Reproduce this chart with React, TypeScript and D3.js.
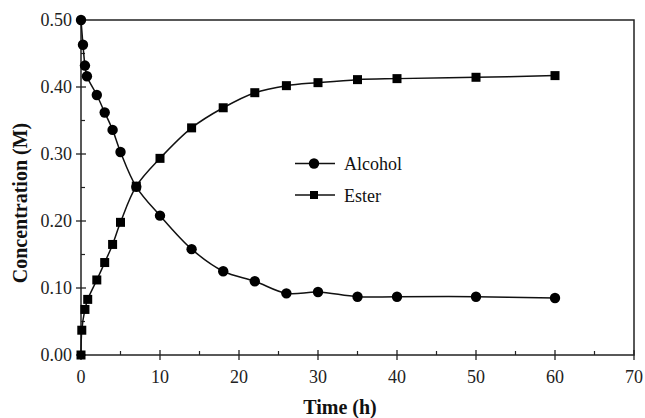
import React from "react";
import * as d3 from "d3";

// Reaction time (h) and measured concentrations (M)
const alcoholTime = [0, 0.25, 0.5, 0.75, 2, 3, 4, 5, 7, 10, 14, 18, 22, 26, 30, 35, 40, 50, 60];
const alcoholConc = [0.5, 0.463, 0.432, 0.416, 0.388, 0.362, 0.336, 0.303, 0.251, 0.208, 0.158, 0.125, 0.110, 0.092, 0.094, 0.087, 0.087, 0.087, 0.085];

const esterTime = [0, 0.1, 0.5, 0.85, 2, 3, 4, 5, 7, 10, 14, 18, 22, 26, 30, 35, 40, 50, 60];
const esterConc = [0, 0.037, 0.068, 0.083, 0.112, 0.138, 0.165, 0.198, 0.252, 0.2935, 0.339, 0.369, 0.3915, 0.402, 0.4065, 0.411, 0.4125, 0.4145, 0.417];

const xTicks = [0, 10, 20, 30, 40, 50, 60, 70];
const yTicks = [0, 0.1, 0.2, 0.3, 0.4, 0.5];
const xMinor = [5, 15, 25, 35, 45, 55, 65];
const yMinor = [0.05, 0.15, 0.25, 0.35, 0.45];

const W = 645;
const H = 418;
const left = 81;
const right = 634;
const top = 20;
const bottom = 355;
const serif: React.CSSProperties = { fontFamily: "'Liberation Serif', 'DejaVu Serif', serif" };

export default function App() {
  const x = d3.scaleLinear().domain([0, 70]).range([left, right]);
  const y = d3.scaleLinear().domain([0, 0.5]).range([bottom, top]);

  const line = d3
    .line<[number, number]>()
    .x((d) => x(d[0]))
    .y((d) => y(d[1]))
    .curve(d3.curveCatmullRom.alpha(0.5));

  const alcohol: [number, number][] = alcoholTime.map((t, i) => [t, alcoholConc[i]]);
  const ester: [number, number][] = esterTime.map((t, i) => [t, esterConc[i]]);

  const sq = 9;

  return (
    <svg
      width={W}
      height={H}
      style={{ position: "absolute", left: 0, top: 0, background: "#fff" }}
    >
      <rect x={0} y={0} width={W} height={H} fill="#fff" />

      {/* frame */}
      <rect
        x={left}
        y={top}
        width={right - left}
        height={bottom - top}
        fill="none"
        stroke="#222"
        strokeWidth={1.5}
      />

      {/* x ticks */}
      {xTicks.map((t) => (
        <g key={"xt" + t}>
          <line x1={x(t)} x2={x(t)} y1={bottom - 5} y2={bottom + 5} stroke="#222" strokeWidth={1.3} />
          <text x={x(t)} y={383} textAnchor="middle" fontSize={18} fill="#222" style={serif}>
            {t}
          </text>
        </g>
      ))}
      {xMinor.map((t) => (
        <line key={"xm" + t} x1={x(t)} x2={x(t)} y1={bottom - 4} y2={bottom} stroke="#222" strokeWidth={1.2} />
      ))}

      {/* y ticks */}
      {yTicks.map((t) => (
        <g key={"yt" + t}>
          <line x1={left - 5} x2={left + 5} y1={y(t)} y2={y(t)} stroke="#222" strokeWidth={1.3} />
          <text x={72} y={y(t) + 6} textAnchor="end" fontSize={18} fill="#222" style={serif}>
            {t.toFixed(2)}
          </text>
        </g>
      ))}
      {yMinor.map((t) => (
        <line key={"ym" + t} x1={left} x2={left + 4} y1={y(t)} y2={y(t)} stroke="#222" strokeWidth={1.2} />
      ))}

      {/* axis titles */}
      <text x={340} y={414} textAnchor="middle" fontSize={20} fontWeight="bold" fill="#111" style={serif}>
        Time (h)
      </text>
      <text
        transform={`translate(27,203) rotate(-90)`}
        textAnchor="middle"
        fontSize={20}
        fontWeight="bold"
        fill="#111"
        style={serif}
      >
        Concentration (M)
      </text>

      {/* series lines */}
      <path d={line(alcohol) ?? ""} fill="none" stroke="#111" strokeWidth={1.5} />
      <path d={line(ester) ?? ""} fill="none" stroke="#111" strokeWidth={1.5} />

      {/* markers */}
      {ester.map((d, i) => (
        <rect key={"e" + i} x={x(d[0]) - sq / 2} y={y(d[1]) - sq / 2} width={sq} height={sq} fill="#000" />
      ))}
      {alcohol.map((d, i) => (
        <circle key={"a" + i} cx={x(d[0])} cy={y(d[1])} r={5.2} fill="#000" />
      ))}

      {/* legend */}
      <line x1={295} x2={335} y1={163.5} y2={163.5} stroke="#111" strokeWidth={1.5} />
      <circle cx={314} cy={163.5} r={5.2} fill="#000" />
      <text x={344} y={170} fontSize={18} fill="#111" style={serif}>
        Alcohol
      </text>
      <line x1={295} x2={335} y1={195} y2={195} stroke="#111" strokeWidth={1.5} />
      <rect x={314 - 4} y={195 - 4} width={8} height={8} fill="#000" />
      <text x={344} y={201.5} fontSize={18} fill="#111" style={serif}>
        Ester
      </text>
    </svg>
  );
}
